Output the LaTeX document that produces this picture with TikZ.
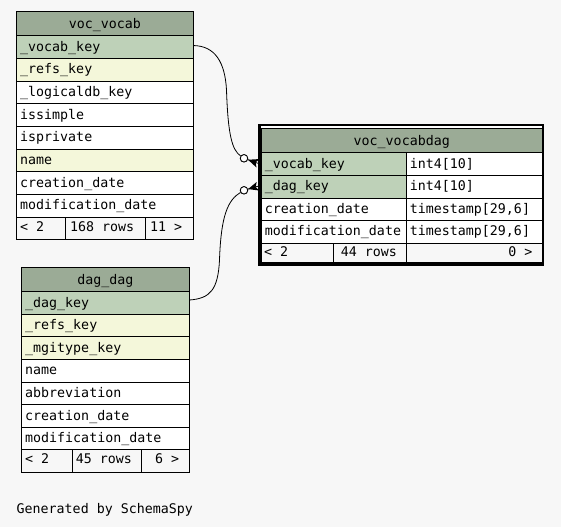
\documentclass[tikz,border=0pt]{standalone}
\usepackage{fontspec}
\usetikzlibrary{calc}
\newfontfamily\monofam{DejaVu Sans Mono}
\newcommand\monof{\monofam\fontsize{13.3pt}{16pt}\selectfont}
\definecolor{hdr}{HTML}{9BAB96}
\definecolor{pk}{HTML}{BED1B8}
\definecolor{idx}{HTML}{F4F7DA}
\definecolor{bg}{HTML}{F7F7F7}
\tikzset{
  cell/.style={draw=black, line width=0.8pt, inner sep=0pt, anchor=north west},
  txt/.style={anchor=base west, inner sep=0pt, font=\monof},
  txte/.style={anchor=base east, inner sep=0pt, font=\monof},
  htxt/.style={anchor=base, inner sep=0pt, font=\monof},
  edge/.style={draw=black, line width=0.8pt},
  odot/.style={circle, draw=black, fill=white, line width=0.8pt, minimum size=7.4pt, inner sep=0pt},
}
% #1 name, #2 x, #3 y top, #4 width, #5 height, #6 fill, #7 text
\newcommand\tcell[7]{%
  \node[cell, fill=#6, minimum width=#4pt, minimum height=#5pt] (#1) at (#2,#3) {};
  \node[txt] (#1-t) at ($(#1.west)+(3.7,4.2)$) {#7};
}
\newcommand\fcell[6]{% name x y w h fill
  \node[cell, fill=#6, minimum width=#4pt, minimum height=#5pt] (#1) at (#2,#3) {};
}
\begin{document}
\begin{tikzpicture}[x=1pt,y=-1pt]
\useasboundingbox (0,0) rectangle (561,527);
\fill[bg] (0,0) rectangle (561,527);

% ---------- voc_vocab ----------
\fcell{vvh}{16.3}{11.3}{176.4}{24}{hdr}
\node[htxt] (vvh-t) at ($(vvh.center)+(0,5)$) {voc\_vocab};
\tcell{vvkey}{16.3}{35.3}{176.4}{22.67}{pk}{\_vocab\_key}
\tcell{vvrefs}{16.3}{58}{176.4}{22.67}{idx}{\_refs\_key}
\tcell{vvldb}{16.3}{80.67}{176.4}{22.67}{white}{\_logicaldb\_key}
\tcell{vvsimple}{16.3}{103.33}{176.4}{22.67}{white}{issimple}
\tcell{vvpriv}{16.3}{126}{176.4}{22.67}{white}{isprivate}
\tcell{vvname}{16.3}{148.67}{176.4}{22.67}{idx}{name}
\tcell{vvcre}{16.3}{171.33}{176.4}{22.67}{white}{creation\_date}
\tcell{vvmod}{16.3}{194}{176.4}{22.67}{white}{modification\_date}
\fcell{vvf1}{16.3}{216.67}{49}{22.67}{bg}
\fcell{vvf2}{65.3}{216.67}{79.4}{22.67}{bg}
\fcell{vvf3}{144.7}{216.67}{48}{22.67}{bg}
\node[txt] (vvf1-t) at (20,231.2) {< 2};
\node[txt] (vvf2-t) at (70,231.2) {168 rows};
\node[txt] (vvf3-t) at (150,231.2) {11 >};

% ---------- dag_dag ----------
\fcell{ddh}{21.3}{267.3}{167.4}{24}{hdr}
\node[htxt] (ddh-t) at ($(ddh.center)+(0,5)$) {dag\_dag};
\tcell{ddkey}{21.3}{291.3}{167.4}{22.59}{pk}{\_dag\_key}
\tcell{ddrefs}{21.3}{313.89}{167.4}{22.59}{idx}{\_refs\_key}
\tcell{ddmgi}{21.3}{336.48}{167.4}{22.59}{idx}{\_mgitype\_key}
\tcell{ddname}{21.3}{359.07}{167.4}{22.59}{white}{name}
\tcell{ddabbr}{21.3}{381.66}{167.4}{22.59}{white}{abbreviation}
\tcell{ddcre}{21.3}{404.25}{167.4}{22.59}{white}{creation\_date}
\tcell{ddmod}{21.3}{426.84}{167.4}{22.59}{white}{modification\_date}
\fcell{ddf1}{21.3}{449.43}{50.4}{22.59}{bg}
\fcell{ddf2}{71.7}{449.43}{69}{22.59}{bg}
\fcell{ddf3}{140.7}{449.43}{48}{22.59}{bg}
\node[txt] (ddf1-t) at (25,463.9) {< 2};
\node[txt] (ddf2-t) at (75.7,463.9) {45 rows};
\node[txt] (ddf3-t) at (155,463.9) {6 >};

% ---------- voc_vocabdag ----------
\fill[black] (257.5,124) rectangle (544.3,265.7);
\fill[white] (260.5,126.4) rectangle (541.7,262.2);
\fcell{vdh}{261}{127.7}{280.7}{24.6}{hdr}
\node[htxt] (vdh-t) at ($(vdh.center)+(0,4.8)$) {voc\_vocabdag};
\tcell{vdkey}{261}{152.3}{145}{22.7}{pk}{\_vocab\_key}
\tcell{vdkeyt}{406}{152.3}{135.7}{22.7}{white}{int4[10]}
\tcell{vddag}{261}{175}{145}{22.5}{pk}{\_dag\_key}
\tcell{vddagt}{406}{175}{135.7}{22.5}{white}{int4[10]}
\tcell{vdcre}{261}{197.5}{145}{22.5}{white}{creation\_date}
\tcell{vdcret}{406}{197.5}{135.7}{22.5}{white}{timestamp[29,6]}
\tcell{vdmod}{261}{220}{145}{22.5}{white}{modification\_date}
\tcell{vdmodt}{406}{220}{135.7}{22.5}{white}{timestamp[29,6]}
\fcell{vdf1}{261}{242.5}{71.7}{19.7}{bg}
\fcell{vdf2}{332.7}{242.5}{73.3}{19.7}{bg}
\fcell{vdf3}{406}{242.5}{135.7}{19.7}{bg}
\node[txt] (vdf1-t) at (264,256.7) {< 2};
\node[txt] (vdf2-t) at (340.7,256.7) {44 rows};
\node[txte] (vdf3-t) at (532.5,256.7) {0 >};

% ---------- connectors ----------
\node[odot] (c1) at (244,158.3) {};
\node[odot] (c2) at (244,190.3) {};
\coordinate (e1) at (258,163.3);
\coordinate (e2) at (258,186.2);

\draw[edge] ([yshift=1.5pt]vvkey.east) .. controls (215,46) and (225,62) .. (226.5,90)
  .. controls (228,135) and (232,150) .. (c1);
\draw[edge] ([yshift=3pt]ddkey.east) .. controls (210,298.5) and (218,290) .. (219.5,260)
  .. controls (221,215) and (228,200) .. (c2);

\draw[edge] (c1) -- (e1);
\draw[edge] (c2) -- (e2);
\fill[black] ($(c1.center)!4.3pt!(e1)$) -- ($(e1)!4.5pt!90:(c1.center)$) -- ($(e1)!2.5pt!(c1.center)$) -- ($(e1)!4.5pt!-90:(c1.center)$) -- cycle;
\fill[black] ($(c2.center)!4.3pt!(e2)$) -- ($(e2)!4.5pt!90:(c2.center)$) -- ($(e2)!2.5pt!(c2.center)$) -- ($(e2)!4.5pt!-90:(c2.center)$) -- cycle;
\node[odot] at (c1) {};
\node[odot] at (c2) {};

% ---------- footer ----------
\node[txt] (gen) at (16.5,513.3) {Generated by SchemaSpy};
\end{tikzpicture}
\end{document}
